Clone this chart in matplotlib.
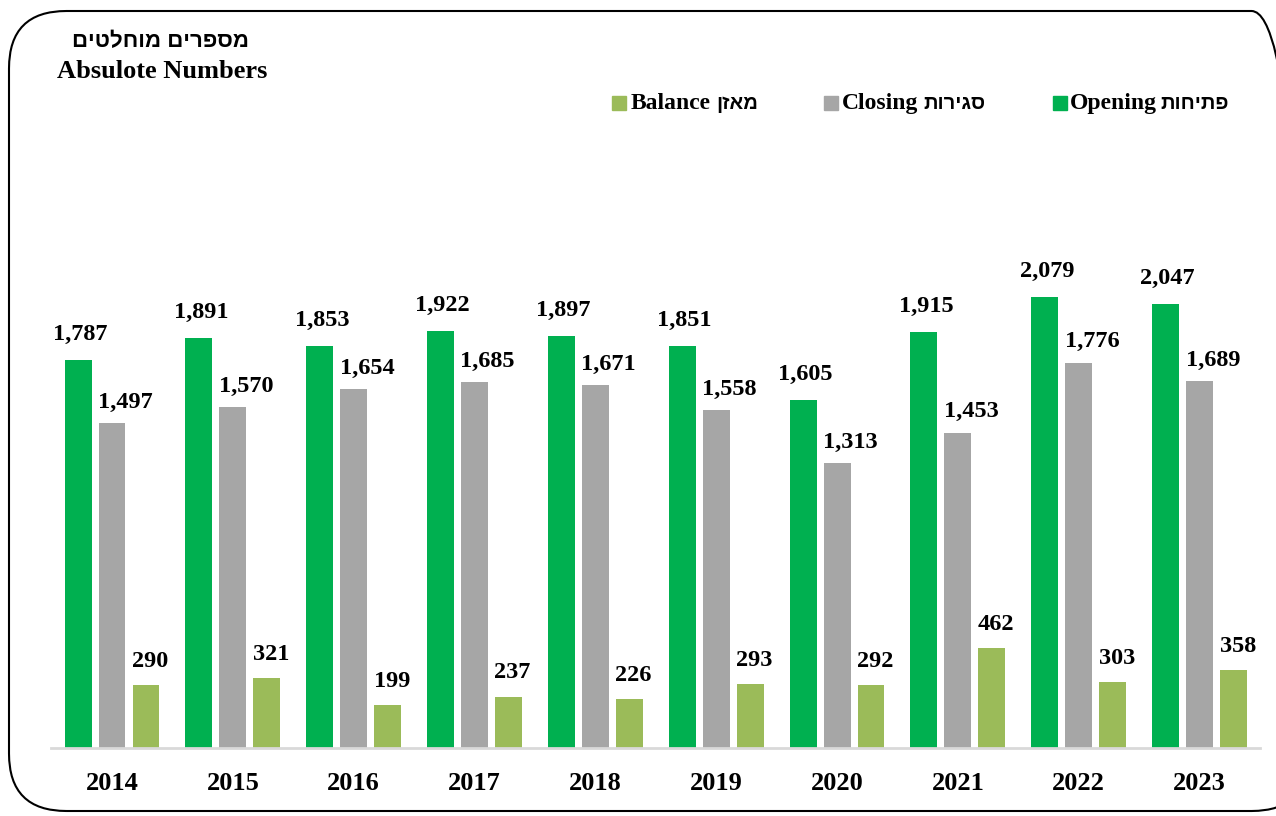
import numpy as np
import matplotlib.pyplot as plt
from matplotlib.patches import FancyBboxPatch, Rectangle

# data
years = ['2014', '2015', '2016', '2017', '2018', '2019', '2020', '2021', '2022', '2023']
opening = [1787, 1891, 1853, 1922, 1897, 1851, 1605, 1915, 2079, 2047]
closing = [1497, 1570, 1654, 1685, 1671, 1558, 1313, 1453, 1776, 1689]
balance = [290, 321, 199, 237, 226, 293, 292, 462, 303, 358]

# legend text: english part, hebrew part (hebrew typed in visual order, no bidi)
leg_en = ['Balance', 'Closing', 'Opening']
leg_he = ['ןזאמ', 'תוריגס', 'תוחיתפ']

c_open = '#00B050'
c_close = '#A6A6A6'
c_bal = '#9BBB59'

plt.rcParams['font.family'] = ['Liberation Serif', 'DejaVu Sans']
he_font = ['Liberation Sans', 'DejaVu Sans']

W, H = 1276, 816
fig = plt.figure(figsize=(W / 100, H / 100), dpi=100)

# rounded frame round the whole chart
frame = FancyBboxPatch((9 / W, 5 / H), 1300 / W, 800 / H,
                       boxstyle='round,pad=0,rounding_size=0.045',
                       transform=fig.transFigure, fill=False,
                       edgecolor='black', linewidth=1.5, mutation_aspect=W / H)
fig.patches.append(frame)

ax = fig.add_axes([51 / W, (H - 748) / H, (1260 - 51) / W, (748 - 150) / H])

x = np.arange(len(years))
bw = 0.223
off = 0.281
ax.bar(x - off, opening, bw, color=c_open)
ax.bar(x, closing, bw, color=c_close)
ax.bar(x + off, balance, bw, color=c_bal)

ax.set_xlim(-0.505, len(years) - 0.5)
ax.set_ylim(0, 598 / 0.217)

for s in ['top', 'right', 'left']:
    ax.spines[s].set_visible(False)
ax.spines['bottom'].set_color('#D9D9D9')
ax.spines['bottom'].set_linewidth(2)
ax.set_yticks([])
ax.set_xticks(x)
ax.set_xticklabels(years, fontsize=19, fontweight='bold')
ax.tick_params(axis='x', length=0, pad=17)

lab = dict(ha='center', va='center', fontsize=17.5, fontweight='bold')
for i in range(len(years)):
    ax.annotate(f'{opening[i]:,}', (x[i] - off, opening[i]),
                xytext=(1.5, 18.5), textcoords='offset points', **lab)
    ax.annotate(f'{closing[i]:,}', (x[i], closing[i]),
                xytext=(9.5, 15), textcoords='offset points', **lab)
    ax.annotate(f'{balance[i]:,}', (x[i] + off, balance[i]),
                xytext=(3, 17), textcoords='offset points', **lab)

# titles
fig.text(161 / W, 1 - 42 / H, 'םיטלחומ םירפסמ', ha='center', va='center',
         fontsize=16, fontweight='bold', family=he_font)
fig.text(162 / W, 1 - 71 / H, 'Absulote Numbers', ha='center', va='center',
         fontsize=19, fontweight='bold')

# legend drawn by hand so the two scripts can use different fonts
leg_colors = [c_bal, c_close, c_open]
sq_x = [612, 824, 1053]
en_x = [631, 842, 1070]
he_end = [758, 985, 1229]
base = 1 - 109 / H
for i in range(3):
    fig.patches.append(Rectangle((sq_x[i] / W, 1 - 110 / H), 14 / W, 14 / H,
                                 transform=fig.transFigure, color=leg_colors[i]))
    fig.text(en_x[i] / W, base, leg_en[i], ha='left', va='baseline',
             fontsize=17, fontweight='bold')
    fig.text(he_end[i] / W, base, leg_he[i], ha='right', va='baseline',
             fontsize=14.5, fontweight='bold', family=he_font)

fig.savefig('out.png', dpi=100)
